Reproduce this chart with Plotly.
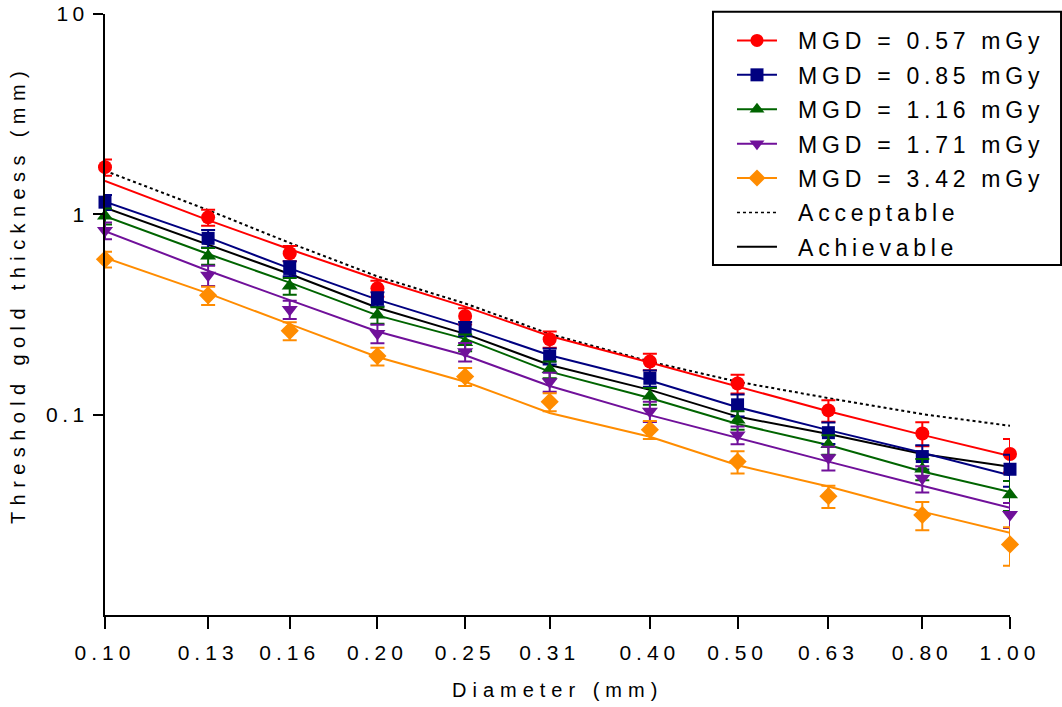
import plotly.graph_objects as go

# ---------------- data ----------------
diameters = [0.10, 0.13, 0.16, 0.20, 0.25, 0.31, 0.40, 0.50, 0.63, 0.80, 1.00]
x_tick_labels = ["0.10", "0.13", "0.16", "0.20", "0.25", "0.31", "0.40", "0.50", "0.63", "0.80", "1.00"]
y_tick_vals = [0.1, 1, 10]
y_tick_labels = ["0.1", "1", "10"]
x_title = "Diameter (mm)"
y_title = "Threshold gold thickness (mm)"

series_names = ["MGD = 0.57 mGy", "MGD = 0.85 mGy", "MGD = 1.16 mGy", "MGD = 1.71 mGy", "MGD = 3.42 mGy"]

mgd057_mean = [1.72, 0.966, 0.639, 0.427, 0.311, 0.238, 0.184, 0.143, 0.105, 0.0806, 0.0636]
mgd057_err = [0.16, 0.089, 0.055, 0.039, 0.029, 0.022, 0.0175, 0.0153, 0.0129, 0.0111, 0.0121]
mgd057_fit = [1.47, 0.935, 0.669, 0.474, 0.346, 0.247, 0.182, 0.138, 0.104, 0.0793, 0.0621]

mgd085_mean = [1.15, 0.759, 0.537, 0.378, 0.268, 0.196, 0.152, 0.112, 0.0813, 0.0618, 0.0534]
mgd085_err = [0.099, 0.076, 0.046, 0.030, 0.022, 0.018, 0.014, 0.014, 0.010, 0.0085, 0.0097]
mgd085_fit = [1.156, 0.767, 0.537, 0.375, 0.275, 0.198, 0.148, 0.109, 0.0837, 0.0645, 0.0498]

mgd116_mean = [0.98, 0.62, 0.439, 0.314, 0.229, 0.168, 0.124, 0.0941, 0.071, 0.0536, 0.0398]
mgd116_err = [0.09, 0.06, 0.042, 0.030, 0.022, 0.016, 0.012, 0.010, 0.008, 0.0065, 0.0068]
mgd116_fit = [0.98, 0.634, 0.456, 0.313, 0.239, 0.164, 0.121, 0.0898, 0.0706, 0.052, 0.0411]

mgd171_mean = [0.83, 0.496, 0.335, 0.254, 0.206, 0.146, 0.104, 0.0792, 0.0609, 0.0481, 0.0317]
mgd171_err = [0.08, 0.057, 0.035, 0.027, 0.022, 0.016, 0.012, 0.008, 0.0082, 0.0072, 0.0045]
mgd171_fit = [0.825, 0.523, 0.373, 0.26, 0.198, 0.139, 0.0995, 0.0763, 0.0583, 0.0442, 0.0343]

mgd342_mean = [0.596, 0.394, 0.262, 0.196, 0.155, 0.116, 0.0842, 0.0583, 0.0392, 0.0316, 0.0225]
mgd342_err = [0.054, 0.041, 0.027, 0.020, 0.016, 0.012, 0.0087, 0.0074, 0.005, 0.0051, 0.0049]
mgd342_fit = [0.608, 0.403, 0.283, 0.194, 0.146, 0.102, 0.0776, 0.0559, 0.0438, 0.0328, 0.0257]

acceptable = [1.65, 1.05, 0.72, 0.49, 0.359, 0.253, 0.184, 0.146, 0.121, 0.1006, 0.088]
achievable = [1.08, 0.703, 0.504, 0.342, 0.253, 0.177, 0.133, 0.0978, 0.0801, 0.0636, 0.055]

# ---------------- styles ----------------
colors = ["#FF0000", "#000080", "#006400", "#70109A", "#FF8C00"]
symbols = ["circle", "square", "triangle-up", "triangle-down", "diamond"]
sizes = [14, 13, 14, 14, 14]
means = [mgd057_mean, mgd085_mean, mgd116_mean, mgd171_mean, mgd342_mean]
errs = [mgd057_err, mgd085_err, mgd116_err, mgd171_err, mgd342_err]
fits = [mgd057_fit, mgd085_fit, mgd116_fit, mgd171_fit, mgd342_fit]

FONT = "Liberation Sans, Arial, sans-serif"

# body margin is removed by post_script: plot area at x 105..1010, y 14..615
W, H = 1062, 707
ML, MR, MT, MB = 105, 52, 14, 92


def spaced(t, ls):
    return f'<span style="letter-spacing:{ls}px">{t}</span>'


def legend_label(t):
    return "\u2002\u2009" + spaced(t, 4.75)


fig = go.Figure()

# reference lines
fig.add_trace(go.Scatter(x=diameters, y=acceptable, mode="lines", showlegend=False,
                         line=dict(color="black", width=2, dash="dot"), cliponaxis=False))
fig.add_trace(go.Scatter(x=diameters, y=achievable, mode="lines", showlegend=False,
                         line=dict(color="black", width=2), cliponaxis=False))

# fit lines
for c, f in zip(colors, fits):
    fig.add_trace(go.Scatter(x=diameters, y=f, mode="lines", showlegend=False,
                             line=dict(color=c, width=2), cliponaxis=False))

# data points with error bars
for c, s, sz, m, e in zip(colors, symbols, sizes, means, errs):
    fig.add_trace(go.Scatter(x=diameters, y=m, mode="markers", showlegend=False,
                             marker=dict(color=c, symbol=s, size=sz),
                             error_y=dict(type="data", array=e, color=c, thickness=2, width=7),
                             cliponaxis=False))

# legend entries
for i, (name, c, s) in enumerate(zip(series_names, colors, symbols)):
    fig.add_trace(go.Scatter(x=[None], y=[None], mode="lines+markers", name=legend_label(name),
                             legendgroup=f"g{i}",
                             line=dict(color=c, width=2), marker=dict(color=c, symbol=s, size=13)))
fig.add_trace(go.Scatter(x=[None], y=[None], mode="lines", name=legend_label("Acceptable"),
                         legendgroup="g5", line=dict(color="black", width=1.5, dash="dot")))
fig.add_trace(go.Scatter(x=[None], y=[None], mode="lines", name=legend_label("Achievable"),
                         legendgroup="g6", line=dict(color="black", width=2)))

fig.update_layout(
    width=W, height=H,
    margin=dict(l=ML, r=MR, t=MT, b=MB),
    paper_bgcolor="white", plot_bgcolor="white",
    font=dict(family=FONT, size=21, color="black"),
    showlegend=True,
    legend=dict(x=0.6928, y=0.9917, xanchor="left", yanchor="top",
                borderwidth=0, bgcolor="rgba(0,0,0,0)",
                font=dict(family=FONT, size=23, color="black"),
                itemwidth=40, tracegroupgap=1.5, traceorder="grouped"),
    xaxis=dict(type="log", range=[-1, 0], showgrid=False, zeroline=False, automargin=False,
               showline=True, linecolor="black", linewidth=2,
               ticks="outside", ticklen=12, tickwidth=2, tickcolor="black",
               ticklabelstandoff=6, ticklabeloverflow="allow",
               tickvals=diameters, ticktext=[spaced(t, 5) for t in x_tick_labels],
               tickfont=dict(family=FONT, size=21)),
    yaxis=dict(type="log", range=[-2, 1], showgrid=False, zeroline=False, automargin=False,
               showline=True, linecolor="black", linewidth=2,
               ticks="outside", ticklen=10, tickwidth=2, tickcolor="black",
               ticklabeloverflow="allow",
               tickvals=y_tick_vals, ticktext=[spaced(t, 4.5) for t in y_tick_labels],
               tickfont=dict(family=FONT, size=21)),
    shapes=[dict(type="rect", xref="paper", yref="paper",
                 x0=0.6718, x1=1.0564, y0=0.5824, y1=1.0038,
                 line=dict(color="black", width=2), fillcolor="rgba(0,0,0,0)", layer="above")],
    annotations=[
        dict(text=spaced(x_title, 6), xref="paper", yref="paper", x=0.5, y=-0.1248,
             xanchor="center", yanchor="middle", showarrow=False, font=dict(family=FONT, size=20)),
        dict(text=spaced(y_title, 6.4), xref="paper", yref="paper", x=-0.0961, y=0.5325,
             xanchor="center", yanchor="middle", textangle=-90, showarrow=False,
             font=dict(family=FONT, size=20)),
    ],
)

fig.write_html("out.html",
               config={"displayModeBar": False},
               post_script="document.body.style.margin='0px';document.body.style.overflow='hidden';")
